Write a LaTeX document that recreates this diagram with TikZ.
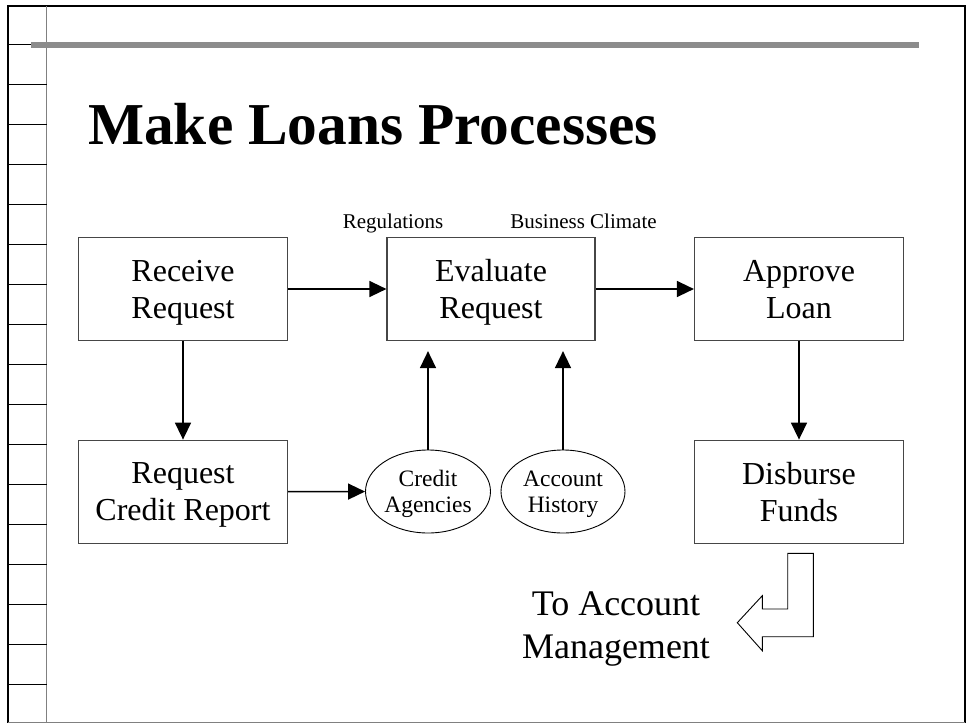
\documentclass[tikz,border=0pt]{standalone}
\usepackage{fontspec}
\setmainfont{Liberation Serif}
\usetikzlibrary{arrows.meta,shapes.geometric}
\definecolor{framegray}{RGB}{128,128,128}
\definecolor{bargray}{RGB}{140,140,140}
\definecolor{boxgray}{RGB}{70,70,70}
\begin{document}
\begin{tikzpicture}[x=1pt,y=-1pt,
  stepbox/.style={draw=boxgray, line width=1.2pt, minimum width=209pt,
    minimum height=103pt, inner sep=0pt, align=center,
    font=\fontsize{32}{37}\selectfont, text depth=0pt},
  store/.style={ellipse, draw, line width=0.9pt, minimum width=125pt,
    minimum height=83pt, inner sep=0pt, align=center,
    font=\fontsize{23.5}{26.3}\selectfont, text depth=0pt},
  flow/.style={line width=1.5pt, -{Triangle[length=17pt,width=16pt]}},
  factor/.style={inner sep=0pt, anchor=base, font=\fontsize{21}{24}\selectfont},
  tick/.style={line width=1pt, black}]
\useasboundingbox (0,0) rectangle (967,723);

% slide frame and ruled margin
\draw[line width=2pt] (8,723) -- (8,6) -- (965,6) -- (965,723);
\draw[framegray, line width=1.4pt] (46.5,6) -- (46.5,723);
\draw[framegray, line width=1pt] (8,722.5) -- (965,722.5);
\draw[tick] (8,44) -- (31,44);
\foreach \k in {1,...,16} \draw[tick] (8,{44+40.06*\k}) -- (46.5,{44+40.06*\k});
\draw[bargray, line width=6pt] (31,45.3) -- (919,45.3);

% title
\node[inner sep=0pt, anchor=base west, font=\fontsize{59.4}{70}\selectfont\bfseries]
  (title) at (88,144) {Make Loans Processes};

% process steps
\node[stepbox] (rr) at (183,289)   {Receive\\Request};
\node[stepbox, minimum width=208pt] (er) at (491,289) {Evaluate\\Request};
\node[stepbox] (al) at (799,289)   {Approve\\Loan};
\node[stepbox] (rc) at (183,491.7) {Request\\Credit Report};
\node[stepbox] (df) at (799,491.7) {Disburse\\Funds};

% external sources
\node[store] (ca) at (428,491.5) {Credit\\Agencies};
\node[store, minimum width=124pt] (ah) at (563,491.5) {Account\\History};

% influencing factors
\node[factor] (reg) at (393,228) {Regulations};
\node[factor] (bc)  at (583.5,228) {Business Climate};

% flows
\draw[flow] (rr) -- (er);
\draw[flow] (er) -- (al);
\draw[flow] (rr) -- (rc);
\draw[flow] (al) -- (df);
\draw[flow] (rc) -- (ca);
\draw[flow, shorten >=10pt] (ca.north) -- (ca.north |- er.south);
\draw[flow, shorten >=10pt] (ah.north) -- (ah.north |- er.south);

% hand-off to account management
\node[inner sep=0pt, align=center, font=\fontsize{36}{43}\selectfont]
  (am) at (616,628.5) {To Account\\Management};
\draw[line width=0.9pt, line join=miter]
  (787.7,553.3) -- (813.3,553.3) -- (813.3,636.7) -- (762.3,636.7)
  -- (762.3,650.7) -- (737.3,622.7) -- (762.3,595.7) -- (762.3,609)
  -- (787.7,609) -- cycle;
\end{tikzpicture}
\end{document}
